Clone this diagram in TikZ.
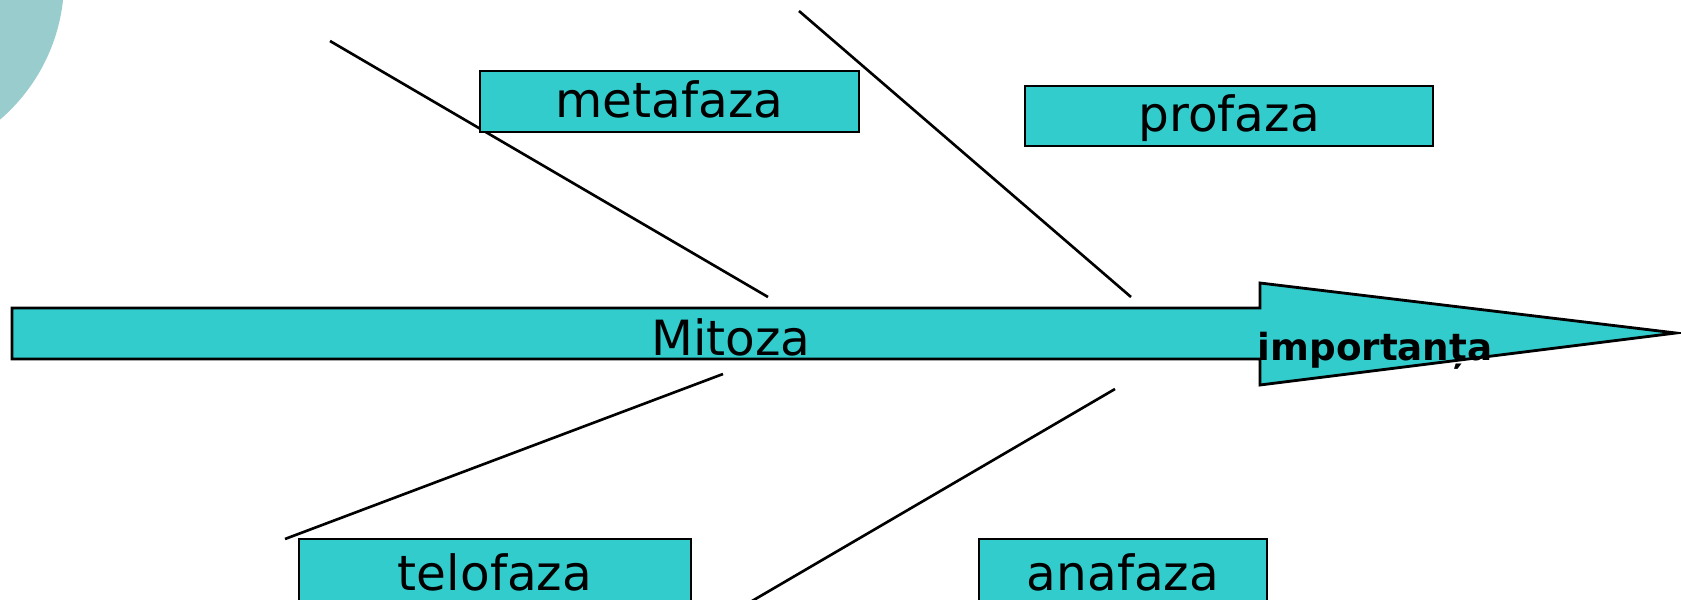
\documentclass[tikz,border=0pt]{standalone}
\usepackage{fontspec}
\setmainfont{DejaVu Sans}
\begin{document}
\begin{tikzpicture}[x=0.01cm,y=-0.01cm]

      % Colours of the boxes and of the round shape in the corner
      \definecolor{boxteal}{HTML}{33CCCC}
      \definecolor{paleteal}{HTML}{99CCCC}

      % A phase box: teal fill with a thin black border, text sitting on a fixed baseline
      \tikzstyle{phase}=[draw,fill=boxteal,line width=0.7pt,inner sep=0pt,text height=0.92em,text depth=0pt,font=\fontsize{13.8}{16}\selectfont]
      \tikzstyle{bone}=[line width=0.75pt]

      % Define dimensions of the spine
      \def\sl{12}      % Left end of the spine
      \def\st{308}     % Top of the spine
      \def\sb{359}     % Bottom of the spine
      \def\nx{1260}    % Where the arrow head starts

      \clip (0,0) rectangle (1681,600);

      \fill [paleteal] (-120,-20) circle [radius=1.84cm];   % round shape, mostly off the page

      % Ends of the bones
      \coordinate (meta top) at (330,41);
      \coordinate (meta end) at (768,297);
      \coordinate (pro top) at (799,11);
      \coordinate (pro end) at (1131,297);
      \coordinate (telo end) at (723,374);
      \coordinate (telo low) at (285,539);
      \coordinate (ana end) at (1115,389);
      \coordinate (ana low) at (752,601);

      % Draw commands
      \draw [bone] (meta top) -- (meta end);
      \draw [bone] (pro top) -- (pro end);
      \draw [bone] (telo end) -- (telo low);
      \draw [bone] (ana end) -- (ana low);

      \draw [fill=boxteal,line width=0.8pt] (\sl,\st) -- (\nx,\st) -- (\nx,283) -- (1676,333)
            -- (\nx,385) -- (\nx,\sb) -- (\sl,\sb) -- cycle;   % spine with its head

      \node [font=\fontsize{13.8}{16}\selectfont,anchor=base] (mitoza) at (731,355) {Mitoza};
      \node [font=\bfseries\fontsize{10.6}{12}\selectfont,anchor=base west,inner sep=0pt] (importanta) at (1257,360) {importanța};

      \node [phase,minimum width=3.79cm,minimum height=0.61cm] (metafaza) at (669.5,101.4) {metafaza};
      \node [phase,minimum width=4.08cm,minimum height=0.60cm] (profaza) at (1229,115.8) {profaza};
      \node [phase,minimum width=3.92cm,minimum height=0.70cm] (telofaza) at (495,574) {telofaza};
      \node [phase,minimum width=2.88cm,minimum height=0.70cm] (anafaza) at (1123,574) {anafaza};

   \end{tikzpicture}
\end{document}
